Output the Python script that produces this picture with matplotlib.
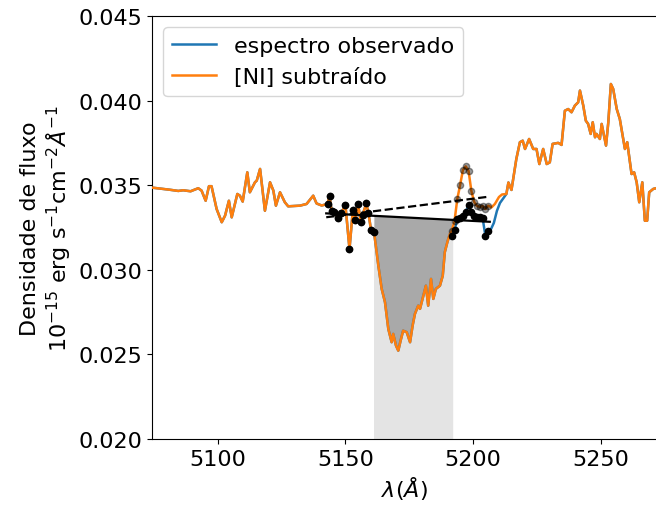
import numpy as np
import matplotlib
matplotlib.use("Agg")
import matplotlib.pyplot as plt

plt.rcParams.update({"font.family": "DejaVu Sans", "font.size": 16})

# [NI]-subtracted spectrum (wavelength in Angstrom, flux in 1e-15 erg/s/cm2/A)
wl = [5073.0, 5078.7, 5081.3, 5084.6, 5086.5, 5089.4, 5092.4, 5093.7, 5095.3, 5096.6,
      5097.6, 5099.6, 5101.6, 5102.9, 5104.4, 5105.5, 5107.7, 5108.7, 5109.8, 5111.6,
      5112.6, 5114.6, 5115.3, 5116.6, 5118.5, 5120.5, 5121.8, 5122.8, 5124.4, 5126.3,
      5127.6, 5132.2, 5134.8, 5137.4, 5138.7, 5140.7,
      5143.0, 5143.8, 5144.6, 5145.7, 5147.1, 5148.4, 5150.0, 5151.6, 5152.9, 5153.9,
      5155.0, 5156.0, 5156.7, 5158.2, 5159.0, 5160.0, 5161.2,
      5162.9, 5164.2, 5165.5, 5166.8, 5168.1, 5168.7, 5169.8, 5170.7, 5171.6, 5172.6,
      5174.0, 5175.3, 5176.3, 5177.2, 5178.5, 5179.2, 5180.5, 5181.5, 5182.4, 5183.5,
      5184.4, 5185.4, 5187.0, 5188.1, 5188.9, 5189.9, 5190.9,
      5191.6, 5192.7, 5193.8, 5194.9, 5196.0, 5197.1, 5198.2, 5199.3, 5200.4, 5201.5,
      5202.6, 5203.7, 5204.8, 5205.9,
      5207.2, 5208.5, 5210.1, 5211.3, 5213.0, 5213.8, 5215.0, 5216.9, 5218.3, 5219.4,
      5220.3, 5221.9, 5223.5, 5224.8, 5225.9, 5227.4, 5228.8, 5230.0, 5231.1, 5233.3,
      5234.6, 5235.9, 5237.2, 5238.5, 5239.8, 5241.1, 5241.8, 5243.1, 5244.1, 5245.0,
      5246.0, 5246.8, 5247.7, 5248.3, 5249.6, 5250.3, 5251.2, 5252.0, 5252.9, 5253.9,
      5254.8, 5256.2, 5257.4, 5259.4, 5260.3, 5262.0, 5263.0, 5264.0, 5265.0, 5266.2,
      5267.2, 5268.1, 5268.9, 5270.5, 5271.5, 5274.0]
flux_sub = [0.03488, 0.03478, 0.03473, 0.03466, 0.03470, 0.03464, 0.03482, 0.03468, 0.03408, 0.03494,
            0.03494, 0.03359, 0.03281, 0.03320, 0.03408, 0.03310, 0.03448, 0.03438, 0.03403, 0.03576,
            0.03458, 0.03517, 0.03527, 0.03596, 0.03349, 0.03517, 0.03468, 0.03379, 0.03458, 0.03399,
            0.03375, 0.03379, 0.03389, 0.03438, 0.03392, 0.03380,
            0.03389, 0.03438, 0.03349, 0.03339, 0.03306, 0.03336, 0.03383, 0.03123, 0.03351, 0.03294,
            0.03386, 0.03283, 0.03324, 0.03392, 0.03336, 0.03238, 0.03224,
            0.03024, 0.02887, 0.02808, 0.02650, 0.02572, 0.02621, 0.02552, 0.02522, 0.02581, 0.02640,
            0.02631, 0.02572, 0.02670, 0.02739, 0.02788, 0.02769, 0.02847, 0.02906, 0.02788, 0.02946,
            0.02828, 0.02887, 0.02906, 0.02965, 0.03104, 0.03163, 0.03212,
            0.03229, 0.03288, 0.03419, 0.03501, 0.03590, 0.03611, 0.03584, 0.03466, 0.03401, 0.03377,
            0.03371, 0.03377, 0.03359, 0.03379,
            0.03369, 0.03389, 0.03430, 0.03445, 0.03448, 0.03516, 0.03472, 0.03655, 0.03754, 0.03763,
            0.03714, 0.03773, 0.03714, 0.03714, 0.03625, 0.03714, 0.03625, 0.03635, 0.03744, 0.03750,
            0.03738, 0.03940, 0.03950, 0.03931, 0.03970, 0.03990, 0.04059, 0.03970, 0.03881, 0.03862,
            0.03803, 0.03872, 0.03783, 0.03803, 0.03773, 0.03862, 0.03793, 0.03734, 0.03872, 0.04098,
            0.04069, 0.03950, 0.03891, 0.03714, 0.03754, 0.03566, 0.03576, 0.03517, 0.03399, 0.03517,
            0.03290, 0.03290, 0.03458, 0.03478, 0.03482, 0.03490]

# observed spectrum where it differs from the subtracted one
wl_obs_seg = [5191.6, 5192.7, 5193.8, 5194.9, 5196.0, 5197.1, 5198.2, 5199.3, 5200.4, 5201.5,
              5202.6, 5203.7, 5204.8, 5205.9, 5207.0, 5208.1, 5209.3, 5210.5, 5212.0]
flux_obs_seg = [0.03202, 0.03235, 0.03300, 0.03306, 0.03318, 0.03342, 0.03383, 0.03342, 0.03320, 0.03312,
                0.03310, 0.03306, 0.03200, 0.03229, 0.03241, 0.03277, 0.03348, 0.03395, 0.03427]

# continuum windows and line integration band
cont_windows = [(5142.5, 5161.5), (5191.5, 5206.5)]
band = (5161.0, 5192.0)

wl = np.array(wl)
flux_sub = np.array(flux_sub)
keep = (wl < wl_obs_seg[0] - 0.1) | (wl > wl_obs_seg[-1] + 0.1)
wl_obs = np.concatenate([wl[keep], wl_obs_seg])
flux_obs = np.concatenate([flux_sub[keep], flux_obs_seg])
order = np.argsort(wl_obs)
wl_obs, flux_obs = wl_obs[order], flux_obs[order]


def in_windows(x):
    m = np.zeros(len(x), dtype=bool)
    for a, b in cont_windows:
        m |= (x >= a) & (x <= b)
    return m


m_obs = in_windows(wl_obs)
m_sub = in_windows(wl)
fit_obs = np.polyfit(wl_obs[m_obs], flux_obs[m_obs], 1)
fit_sub = np.polyfit(wl[m_sub], flux_sub[m_sub], 1)
xc = np.array([cont_windows[0][0], cont_windows[1][1]])

fig = plt.figure(figsize=(6.56, 5.10), dpi=100)
ax = fig.add_axes([0.2317, 0.1373, 0.770, 0.8294])
ymin, ymax = 0.020, 0.045

# band under the continuum, and the absorbed area on top of it
xb = np.array(band)
ax.fill_between(xb, ymin - 0.01, np.polyval(fit_obs, xb), color="#e4e4e4", lw=0, zorder=0)
inband = (wl >= band[0]) & (wl <= band[1])
ax.fill_between(wl[inband], np.polyval(fit_obs, wl[inband]), flux_sub[inband],
                color="darkgrey", lw=0, zorder=1)

ax.plot(wl_obs, flux_obs, color="C0", lw=1.8, label="espectro observado", zorder=2)
ax.plot(wl, flux_sub, color="C1", lw=1.8, label="[NI] subtraído", zorder=3)

ax.plot(wl[m_sub], flux_sub[m_sub], "o", color="black", ms=4.5, alpha=0.4, zorder=4)
ax.plot(wl_obs[m_obs], flux_obs[m_obs], "o", color="black", ms=4.5, zorder=5)
ax.plot(xc, np.polyval(fit_obs, xc), "-", color="black", lw=1.6, zorder=6)
ax.plot(xc, np.polyval(fit_sub, xc), "--", color="black", lw=1.6, zorder=6)

ax.set_xlim(5074.3, 5272.0)
ax.set_ylim(ymin, ymax)
ax.set_xticks([5100, 5150, 5200, 5250])
ax.set_yticks([0.020, 0.025, 0.030, 0.035, 0.040, 0.045])
ax.set_xlabel(r"$\lambda(Å)$")
ax.set_ylabel("Densidade de fluxo\n" + r"$10^{-15}$ erg s$^{-1}$cm$^{-2}$$Å^{-1}$")
ax.legend(loc="upper left")

fig.savefig("out.png", dpi=100)
